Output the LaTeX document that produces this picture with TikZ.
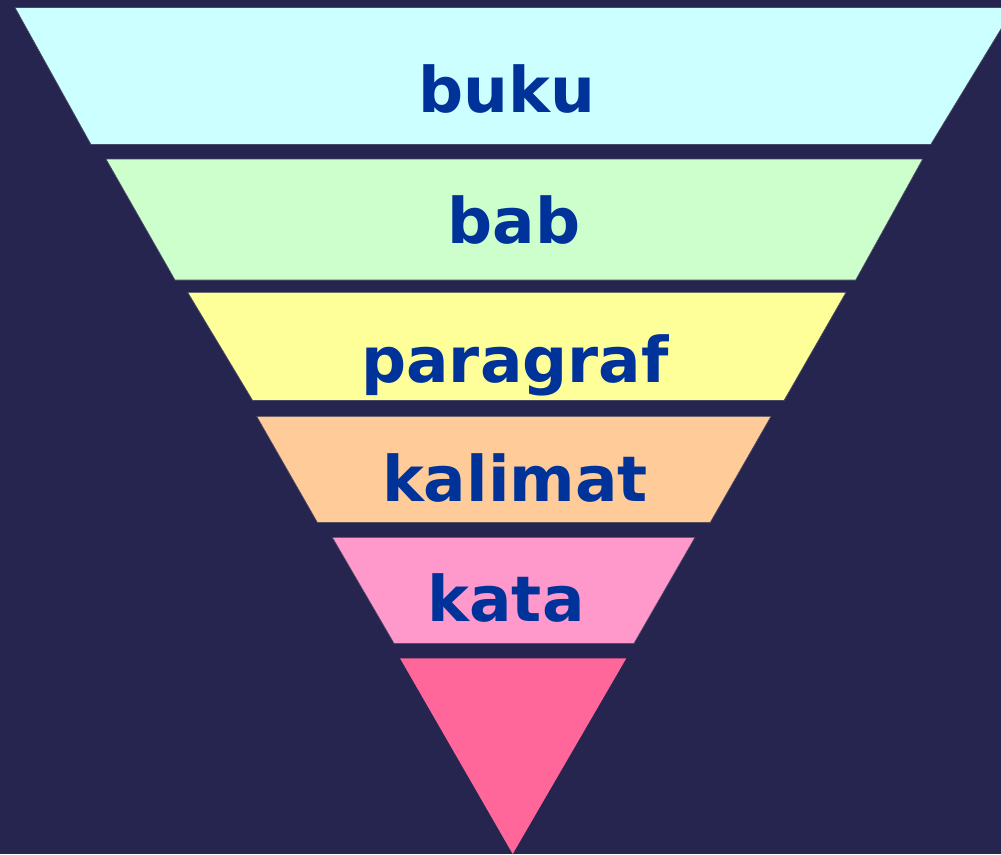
\documentclass[tikz,border=0pt]{standalone}
\usepackage{fontspec}
\setmainfont{DejaVu Sans}
\definecolor{bgc}{HTML}{262550}
\definecolor{c1}{HTML}{CCFFFF}
\definecolor{c2}{HTML}{CCFFCC}
\definecolor{c3}{HTML}{FFFF99}
\definecolor{c4}{HTML}{FFCC99}
\definecolor{c5}{HTML}{FF99CC}
\definecolor{c6}{HTML}{FF6699}
\definecolor{txt}{HTML}{003399}
\tikzset{
  lbl/.style={anchor=base, text=txt, font=\fontsize{63}{70}\selectfont\bfseries, inner sep=0pt},
  layer/.style={draw=bgc!60!gray, line width=0.6pt}
}
\begin{document}
\begin{tikzpicture}[x=1pt,y=-1pt]
\fill[bgc] (0,0) rectangle (1001,854);
\useasboundingbox (0,0) rectangle (1001,854);
\filldraw[layer, fill=c1] (15,7.5) -- (1014,7.5) -- (930.7,144.5) -- (91,144.5) -- cycle;
\filldraw[layer, fill=c2] (106,159) -- (922.7,159) -- (855.7,280) -- (175,280) -- cycle;
\filldraw[layer, fill=c3] (187.7,292.3) -- (846,292.3) -- (784,400.5) -- (252.7,400.5) -- cycle;
\filldraw[layer, fill=c4] (256.7,416.3) -- (771,416.3) -- (710.3,522.3) -- (317.3,522.3) -- cycle;
\filldraw[layer, fill=c5] (332.3,537.3) -- (695,537.3) -- (634,643.3) -- (394,643.3) -- cycle;
\fill[c6] (400,658.3) -- (626.3,658.3) -- (512.7,854) -- cycle;
\node[lbl] (buku) at (507,112) {buku};
\node[lbl] (bab) at (514,243) {bab};
\node[lbl] (paragraf) at (515,382) {paragraf};
\node[lbl] (kalimat) at (515,501) {kalimat};
\node[lbl] (kata) at (506,621) {kata};
\end{tikzpicture}
\end{document}
